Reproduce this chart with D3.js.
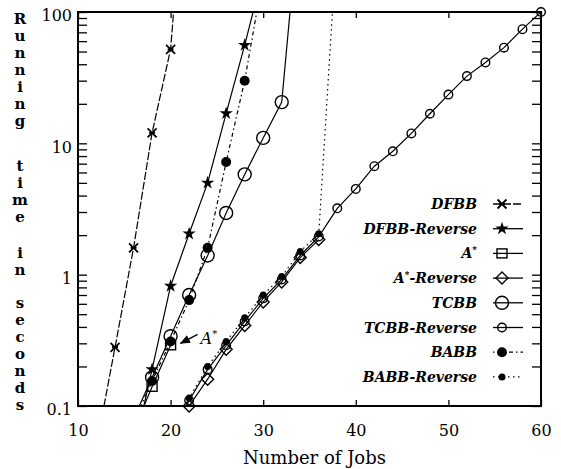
<!DOCTYPE html>
<html><head><meta charset="utf-8">
<script src="https://cdn.jsdelivr.net/npm/d3@7"></script>
<style>
body{margin:0;background:#fff;}
svg{display:block;}
</style></head>
<body><svg id="c" width="561" height="469"></svg>
<script>
// ---- data ----
const xTicks = [10, 20, 30, 40, 50, 60];
const yMajor = [0.1, 1, 10, 100];
const yLabels = ["0.1", "1", "10", "100"];
const xTitle = "Number of Jobs";
const yTitle = "Running time in seconds";

const dfbbX = [12, 14, 16, 18, 20, 22];
const dfbbY = [0.05, 0.28, 1.6, 12, 52, 3000];
const dfbbRevX = [16, 18, 20, 22, 24, 26, 28, 30];
const dfbbRevY = [0.045, 0.19, 0.82, 2.05, 5.0, 16.9, 56, 200];
const aStarX = [16, 18, 20];
const aStarY = [0.065, 0.14, 0.29];
const aStarRevX = [20, 22, 24, 26, 28, 30, 32, 34, 36];
const aStarRevY = [0.05, 0.10, 0.16, 0.27, 0.41, 0.62, 0.88, 1.35, 1.85];
const tcbbX = [16, 18, 20, 22, 24, 26, 28, 30, 32, 34];
const tcbbY = [0.08, 0.165, 0.34, 0.70, 1.40, 2.95, 5.8, 11, 20.6, 700];
const tcbbRevX = [20, 22, 24, 26, 28, 30, 32, 34, 36, 38, 40, 42, 44, 46, 48, 50, 52, 54, 56, 58, 60];
const tcbbRevY = [0.055, 0.11, 0.19, 0.29, 0.44, 0.66, 0.92, 1.40, 1.95, 3.2, 4.5, 6.7, 8.7, 11.9, 16.8, 23.5, 32.5, 41.3, 53.5, 74, 100];
const babbX = [16, 18, 20, 22, 24, 26, 28, 30];
const babbY = [0.075, 0.155, 0.31, 0.64, 1.6, 7.2, 30, 190];
const babbRevX = [20, 22, 24, 26, 28, 30, 32, 34, 36, 38];
const babbRevY = [0.06, 0.115, 0.2, 0.31, 0.47, 0.7, 0.97, 1.5, 2.05, 400];

const seriesNames = ["DFBB", "DFBB-Reverse", "A*", "A*-Reverse", "TCBB", "TCBB-Reverse", "BABB", "BABB-Reverse"];
const annotation = {text: "A*", x: 20, y: 0.3};

// ---- build ----
const series = [
  {name: seriesNames[0], xs: dfbbX, ys: dfbbY, mark: "x", dash: "8,2"},
  {name: seriesNames[1], xs: dfbbRevX, ys: dfbbRevY, mark: "star", dash: null},
  {name: seriesNames[2], xs: aStarX, ys: aStarY, mark: "square", dash: null},
  {name: seriesNames[3], xs: aStarRevX, ys: aStarRevY, mark: "diamond", dash: null},
  {name: seriesNames[4], xs: tcbbX, ys: tcbbY, mark: "bigcircle", dash: null},
  {name: seriesNames[5], xs: tcbbRevX, ys: tcbbRevY, mark: "smallcircle", dash: null},
  {name: seriesNames[6], xs: babbX, ys: babbY, mark: "bigdot", dash: "1.5,3,4,3"},
  {name: seriesNames[7], xs: babbRevX, ys: babbRevY, mark: "smalldot", dash: "1.5,3.5"}
];

const L = 78, R = 541, T = 12, B = 406;
const svg = d3.select("#c");
const x = d3.scaleLinear().domain([10, 60]).range([L, R]);
const y = d3.scaleLog().domain([0.1, 100]).range([B, T]);

svg.append("defs").append("clipPath").attr("id", "clip")
  .append("rect").attr("x", L).attr("y", T).attr("width", R - L).attr("height", B - T);

const serif = "'DejaVu Serif', 'Liberation Serif', serif";

// minor ticks
const minors = [];
[0.1, 1, 10].forEach(d => { for (let k = 2; k <= 9; k++) minors.push(d * k); });

const gl = svg.append("g").attr("transform", `translate(${L},0)`)
  .call(d3.axisLeft(y).tickValues(yMajor).tickSize(-9).tickPadding(6)
    .tickFormat((d, i) => yLabels[i]));
gl.selectAll("text").attr("font-family", serif).attr("font-size", 16).attr("fill", "#000").attr("dy", "0.55em");
svg.append("g").attr("transform", `translate(${L},0)`)
  .call(d3.axisLeft(y).tickValues(minors).tickSize(-9).tickFormat(""));
svg.append("g").attr("transform", `translate(${R},0)`)
  .call(d3.axisRight(y).tickValues(yMajor.concat(minors)).tickSize(-9).tickFormat(""));
const gb = svg.append("g").attr("transform", `translate(0,${B})`)
  .call(d3.axisBottom(x).tickValues(xTicks).tickSize(-6).tickPadding(19).tickFormat(d3.format("d")));
gb.selectAll("text").attr("font-family", serif).attr("font-size", 16).attr("fill", "#000");
svg.append("g").attr("transform", `translate(0,${T})`)
  .call(d3.axisTop(x).tickValues(xTicks).tickSize(-6).tickFormat(""));
svg.selectAll(".domain").attr("stroke", "none");
svg.selectAll(".tick line").attr("stroke", "#000").attr("stroke-width", 1.3);

// frame
svg.append("rect").attr("x", L).attr("y", T).attr("width", R - L).attr("height", B - T)
  .attr("fill", "none").attr("stroke", "#000").attr("stroke-width", 2);

// axis titles
svg.append("text").attr("x", (L + R) / 2 + 5).attr("y", 464)
  .attr("text-anchor", "middle").attr("font-family", serif).attr("font-size", 18).text(xTitle);

const letterY = [19, 36, 53, 70, 87, 104, 121, null, 166, 183, 200, 217, null, 253, 270, null, 303, 320, 337, 354, 371, 388, 405];
const ytg = svg.append("g");
yTitle.split("").forEach((ch, i) => {
  if (ch === " ") return;
  ytg.append("text").attr("x", 20).attr("y", letterY[i] + 5)
    .attr("font-family", serif).attr("font-size", 15).attr("font-weight", "bold")
    .attr("text-anchor", "middle").text(ch);
});

// markers
function drawMark(g, type, cx, cy) {
  const s = g.append("g").attr("transform", `translate(${cx},${cy})`);
  if (type === "x") {
    s.append("path").attr("d", "M-4.5,-4.5L4.5,4.5M-4.5,4.5L4.5,-4.5M-3,0L3,0")
      .attr("stroke", "#000").attr("stroke-width", 1.8).attr("fill", "none");
  } else if (type === "star") {
    s.append("path").attr("d", d3.symbol(d3.symbolStar, 55)()).attr("fill", "#000");
  } else if (type === "square") {
    s.append("rect").attr("x", -5).attr("y", -4.5).attr("width", 10).attr("height", 9)
      .attr("fill", "none").attr("stroke", "#000").attr("stroke-width", 1.4);
  } else if (type === "diamond") {
    s.append("path").attr("d", "M0,-6L6,0L0,6L-6,0Z")
      .attr("fill", "none").attr("stroke", "#000").attr("stroke-width", 1.4);
  } else if (type === "bigcircle") {
    s.append("circle").attr("r", 6.5).attr("fill", "none").attr("stroke", "#000").attr("stroke-width", 1.4);
  } else if (type === "smallcircle") {
    s.append("circle").attr("r", 4.3).attr("fill", "none").attr("stroke", "#000").attr("stroke-width", 1.4);
  } else if (type === "bigdot") {
    s.append("circle").attr("r", 5).attr("fill", "#000");
  } else if (type === "smalldot") {
    s.append("circle").attr("r", 3.5).attr("fill", "#000");
  }
}

const line = d3.line().x(d => x(d[0])).y(d => y(d[1]));
const plot = svg.append("g").attr("clip-path", "url(#clip)");
series.forEach(s => {
  const pts = s.xs.map((v, i) => [v, s.ys[i]]);
  plot.append("path").attr("d", line(pts)).attr("fill", "none").attr("stroke", "#000")
    .attr("stroke-width", 1.2).attr("stroke-dasharray", s.dash);
});
const mg = svg.append("g");
series.forEach(s => {
  s.xs.forEach((v, i) => {
    const val = s.ys[i];
    if (val >= 0.1 && val <= 100 && v >= 10 && v <= 60) drawMark(mg, s.mark, x(v), y(val));
  });
});

// annotation
const ax = x(annotation.x), ay = y(annotation.y);
svg.append("defs").append("marker").attr("id", "ah").attr("viewBox", "0 0 10 10")
  .attr("refX", 9).attr("refY", 5).attr("markerWidth", 8).attr("markerHeight", 8).attr("orient", "auto")
  .append("path").attr("d", "M0,1L10,5L0,9Z").attr("fill", "#000");
svg.append("line").attr("x1", ax + 27).attr("y1", ay - 9).attr("x2", ax + 10).attr("y2", ay)
  .attr("stroke", "#000").attr("stroke-width", 1.3).attr("marker-end", "url(#ah)");
const at = svg.append("text").attr("x", ax + 30).attr("y", ay + 1).attr("font-family", serif)
  .attr("font-style", "italic").attr("font-size", 16);
at.append("tspan").text(annotation.text[0]);
at.append("tspan").attr("dy", -7).attr("font-size", 10).text(annotation.text.slice(1));

// legend
const lg = svg.append("g");
series.forEach((s, i) => {
  const ly = 204 + i * 24.7;
  const t = lg.append("text").attr("x", 477).attr("y", ly + 5).attr("text-anchor", "end")
    .attr("font-family", serif).attr("font-style", "italic").attr("font-weight", "bold").attr("font-size", 14);
  if (s.name.startsWith("A*")) {
    t.append("tspan").text("A");
    t.append("tspan").attr("dy", -5).attr("font-size", 9).text("*");
    t.append("tspan").attr("dy", 5).text(s.name.slice(2));
  } else {
    t.text(s.name);
  }
  lg.append("line").attr("x1", 493).attr("x2", 523).attr("y1", ly).attr("y2", ly)
    .attr("stroke", "#000").attr("stroke-width", 1.3).attr("stroke-dasharray", s.dash);
  drawMark(lg, s.mark, 502, ly);
});
</script></body></html>
